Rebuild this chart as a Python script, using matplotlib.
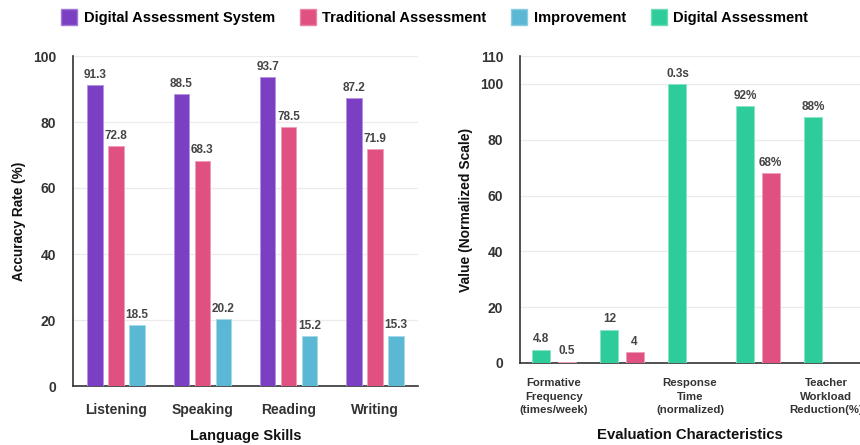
import matplotlib
matplotlib.use("Agg")
import matplotlib.pyplot as plt
import numpy as np
from matplotlib.lines import Line2D
from matplotlib.colors import to_rgb

plt.rcParams["font.family"] = ["Liberation Sans", "DejaVu Sans"]
plt.rcParams["font.weight"] = "bold"

# Left panel: accuracy by language skill
skills = ["Listening", "Speaking", "Reading", "Writing"]
digital_system = [91.3, 88.5, 93.7, 87.2]
traditional = [72.8, 68.3, 78.5, 71.9]
improvement = [18.5, 20.2, 15.2, 15.3]

# Right panel: evaluation characteristics (normalized)
characteristics = ["Formative\nFrequency\n(times/week)", "", "Response\nTime\n(normalized)", "",
                   "Teacher\nWorkload\nReduction(%)"]
digital_vals = [4.8, 12, 100, 92, 88]
digital_labels = ["4.8", "12", "0.3s", "92%", "88%"]
trad_vals = [0.5, 4, None, 68, None]
trad_labels = ["0.5", "4", "", "68%", ""]

C_PURPLE = "#7B3FC4"
C_PINK = "#E05080"
C_BLUE = "#5BB8D5"
C_GREEN = "#2ECC9A"
TXT = "#333333"
LBL = "#444444"

fig = plt.figure(figsize=(8.6, 4.45), dpi=100)
W, H = 860, 445
ax1 = fig.add_axes([73 / W, 1 - 386 / H, (418 - 73) / W, (386 - 56) / H])
ax2 = fig.add_axes([520 / W, 1 - 363 / H, (860 - 520) / W, (363 - 56) / H])


def lighten(c, f=0.45):
    r, g, b = to_rgb(c)
    return (r + (1 - r) * f, g + (1 - g) * f, b + (1 - b) * f)


def style_axes(ax):
    for s in ("top", "right"):
        ax.spines[s].set_visible(False)
    for s in ("left", "bottom"):
        ax.spines[s].set_color("#333333")
        ax.spines[s].set_linewidth(1.2)
    ax.grid(axis="y", color="#EBEBEB", linewidth=0.9)
    ax.set_axisbelow(True)
    ax.tick_params(axis="both", length=0, colors=TXT)
    ax.tick_params(axis="y", labelsize=10, pad=12)


def draw_bars(ax, xs, vals, labels, color, width):
    for x, v, lab in zip(xs, vals, labels):
        if v is None:
            continue
        ax.bar(x, v, width=width, color=color, edgecolor=lighten(color), linewidth=0.7, zorder=3)
        if lab:
            ax.annotate(lab, (x, v), xytext=(0, 3), textcoords="offset points",
                        ha="center", va="bottom", fontsize=8.5, fontweight="bold",
                        color=LBL, zorder=4)


# Left chart
x1 = np.arange(len(skills))
bw1 = 0.18
off1 = 0.244
draw_bars(ax1, x1 - off1, digital_system, [f"{v:.1f}" for v in digital_system], C_PURPLE, bw1)
draw_bars(ax1, x1, traditional, [f"{v:.1f}" for v in traditional], C_PINK, bw1)
draw_bars(ax1, x1 + off1, improvement, [f"{v:.1f}" for v in improvement], C_BLUE, bw1)
ax1.set_xlim(-0.5, len(skills) - 0.5)
ax1.set_ylim(0, 100)
ax1.set_yticks([0, 20, 40, 60, 80, 100])
ax1.set_xticks(x1)
style_axes(ax1)
ax1.set_xticklabels(skills, fontweight="bold", fontsize=10)
ax1.tick_params(axis="x", pad=12)
ax1.set_xlabel("Language Skills", fontsize=10.5, fontweight="bold", color="#111111", labelpad=9)
ax1.set_ylabel("Accuracy Rate (%)", fontsize=9.8, fontweight="bold", color="#111111", labelpad=5)

# Right chart
x2 = np.arange(len(characteristics))
bw2 = 0.265
off2 = 0.184
draw_bars(ax2, x2 - off2, digital_vals, digital_labels, C_GREEN, bw2)
draw_bars(ax2, x2 + off2, trad_vals, trad_labels, C_PINK, bw2)
ax2.set_xlim(-0.5, len(characteristics) - 0.5)
ax2.set_ylim(0, 110)
ax2.set_yticks([0, 20, 40, 60, 80, 100, 110])
ax2.set_xticks(x2)
style_axes(ax2)
ax2.set_xticklabels(characteristics, fontweight="bold", fontsize=8.2, linespacing=1.45)
ax2.tick_params(axis="x", pad=11)
ax2.set_xlabel("Evaluation Characteristics", fontsize=10.7, fontweight="bold", color="#111111", labelpad=9)
ax2.set_ylabel("Value (Normalized Scale)", fontsize=10, fontweight="bold", color="#111111", labelpad=5)

# Shared legend across the top
handles = [Line2D([], [], marker="s", linestyle="none", markersize=11.5, markerfacecolor=c,
                  markeredgecolor=lighten(c, 0.3)) for c in (C_PURPLE, C_PINK, C_BLUE, C_GREEN)]
names = ["Digital Assessment System", "Traditional Assessment", "Improvement", "Digital Assessment"]
fig.legend(handles, names, loc="center", bbox_to_anchor=(434.5 / W, 1 - 18 / H), ncol=4,
           frameon=False, prop={"weight": "bold", "size": 10.5}, handletextpad=0.45,
           columnspacing=1.7, handlelength=1.1, borderaxespad=0)

fig.savefig("out.png", dpi=100)
